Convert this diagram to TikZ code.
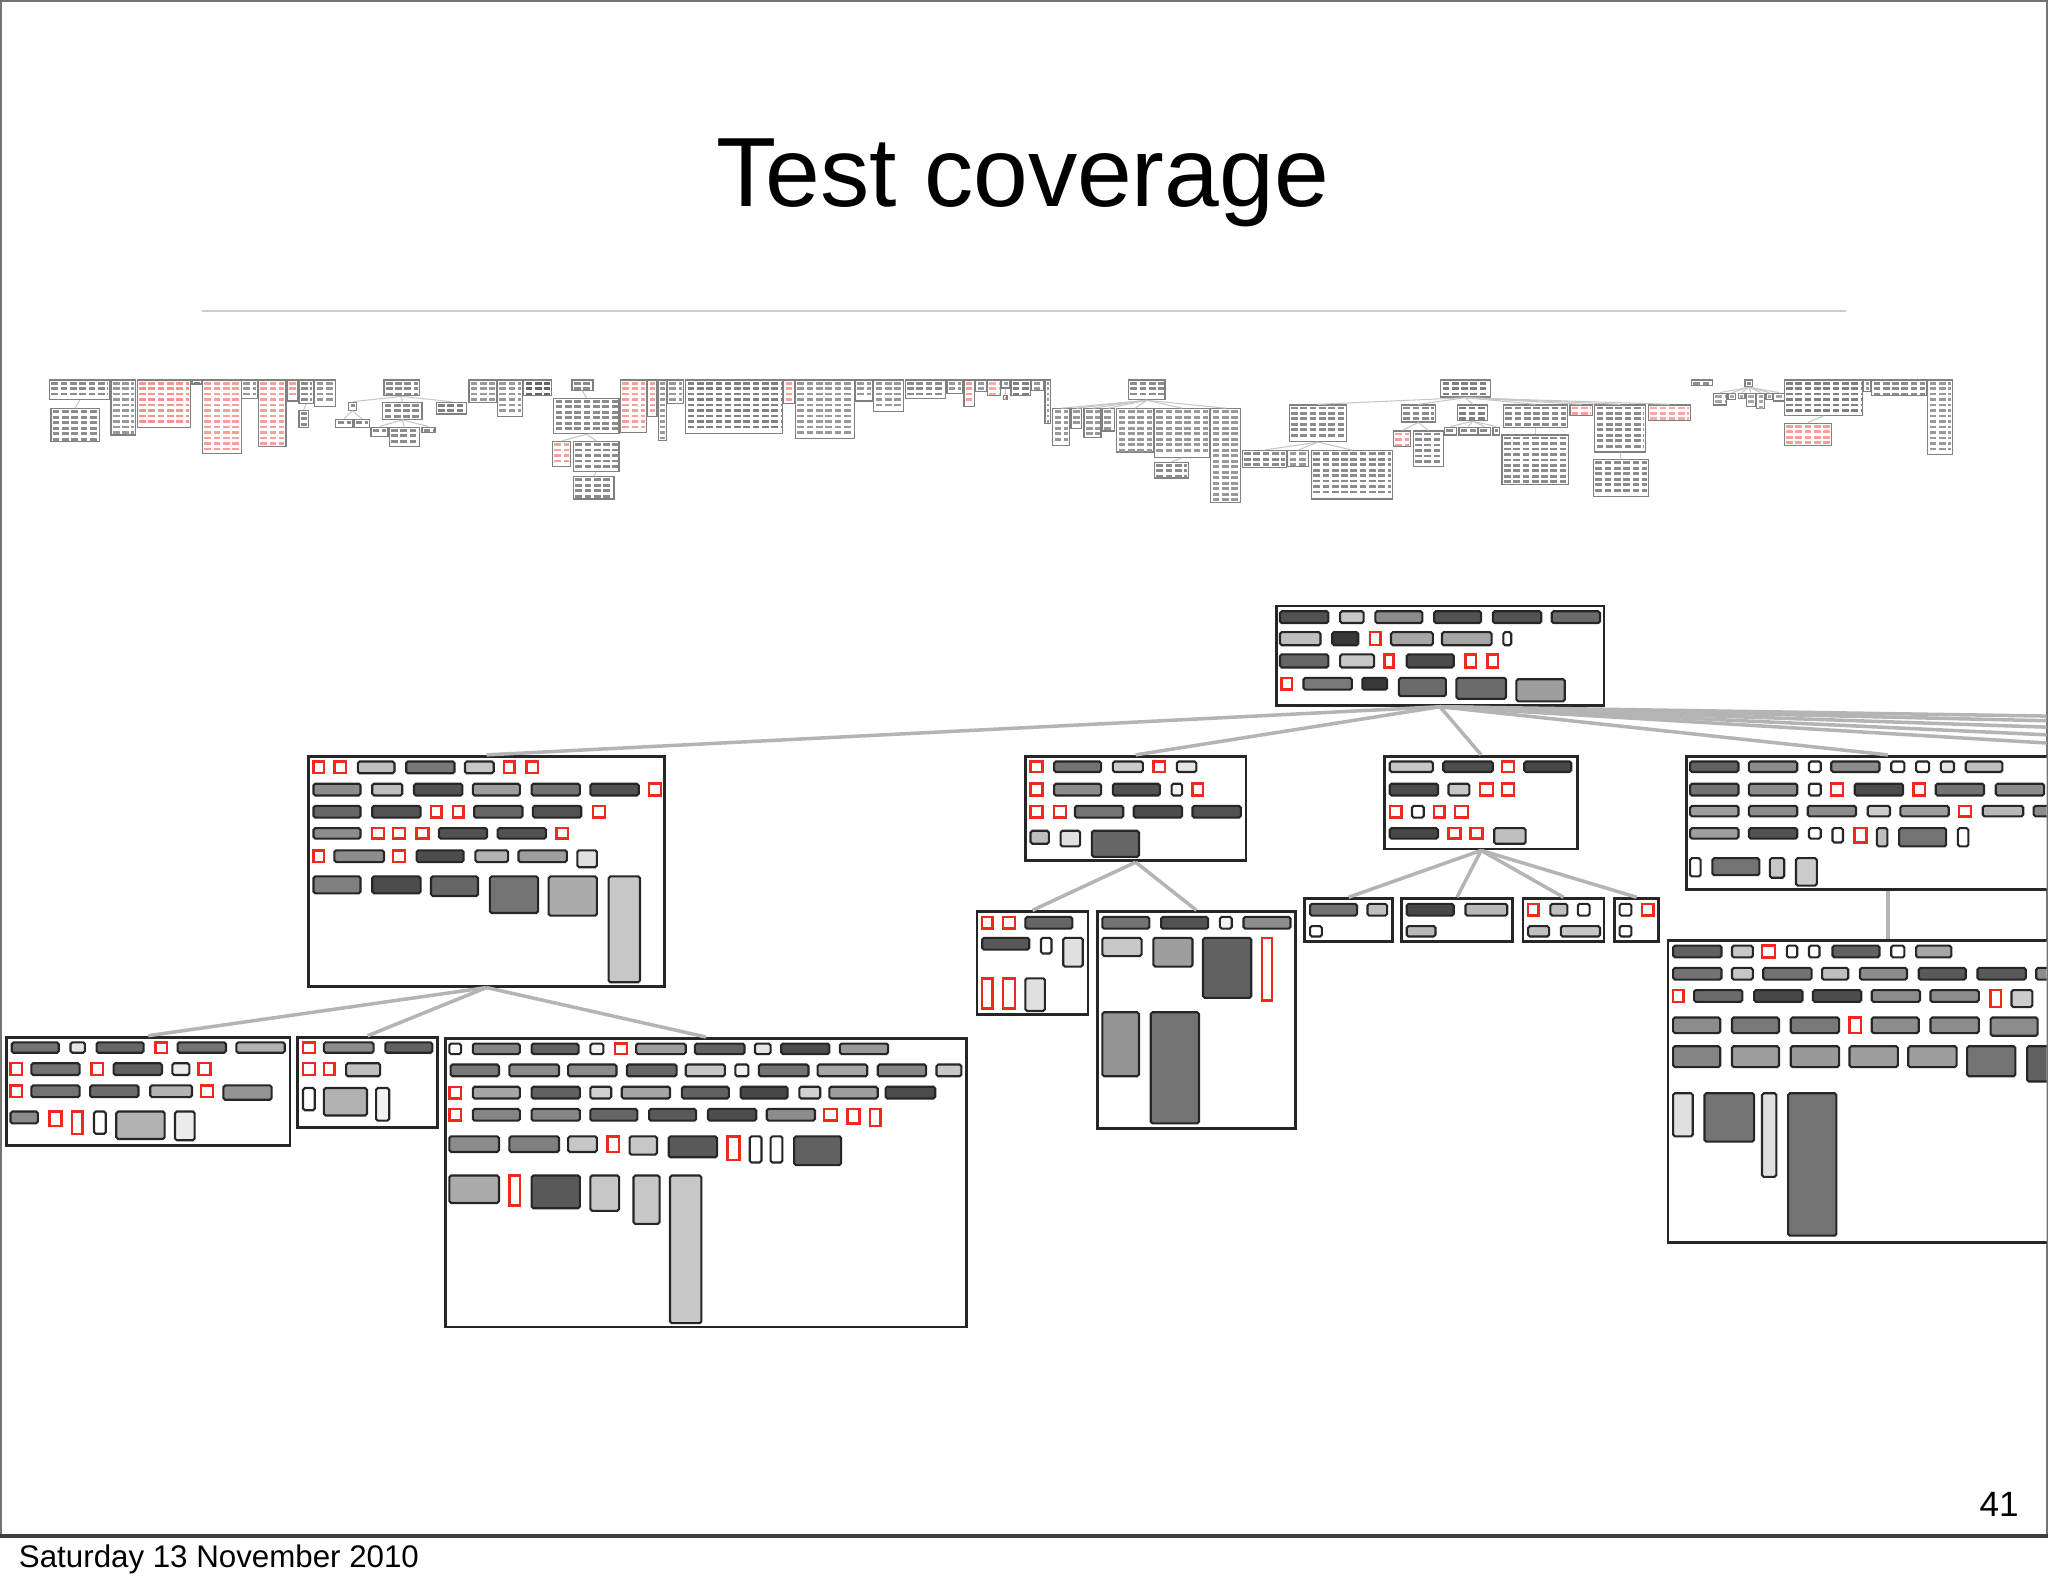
\documentclass[tikz,border=0pt]{standalone}
\usepackage{fontspec}
\setmainfont{Liberation Sans}
\usetikzlibrary{fit}
\definecolor{hotred}{HTML}{EE2A1E}
\definecolor{linkgrey}{HTML}{B4B4B4}

% small overview box with rows of dashes
\newcommand{\minibox}[6]{%
  \node[mbox,fit={(#2,#3) (#4,#5)}] (#1) {};
  \pgfmathtruncatemacro\nrows{max(1,(#5-#3-3.5)/4.2+1)}
  \foreach \k in {1,...,\nrows}
    \draw[mrow,#6] (#2+1.4,#3+2.3+\k*4.2-4.2) -- (#4-1.2,#3+2.3+\k*4.2-4.2);
}

\begin{document}
\begin{tikzpicture}[x=0.1306mm,y=-0.1306mm,
 tbox/.style={draw=black!85,line width=0.8pt,inner sep=0pt,fill=white},
 gbar/.style={draw=black!85,line width=0.6pt,rounded corners=0.5pt},
 redbar/.style={draw=hotred,line width=0.7pt,fill=white},
 tlink/.style={draw=linkgrey,line width=1pt},
 mbox/.style={draw=black!50,line width=0.35pt,inner sep=0pt},
 mrow/.style={line width=0.8pt,dash pattern=on 1.9pt off 0.75pt},
 mlink/.style={draw=black!22,line width=0.3pt}]
\useasboundingbox (0,0) rectangle (1568,1215);
\fill[white] (0,0) rectangle (1568,1215);

% slide
\draw[black!55,line width=0.6pt] (0.8,0.8) rectangle (1567.2,1176);
\draw[black!75,line width=1.2pt] (0,1176) -- (1568,1176);
\node[anchor=base,inner sep=0pt] (title) at (783,158) {\fontsize{28}{34}\selectfont Test coverage};
\draw[black!20,line width=0.6pt] (155,238) -- (1413,238);
\node[anchor=base west,inner sep=0pt] (date) at (14,1200) {\fontsize{8.9}{10}\selectfont Saturday 13 November 2010};
\node[anchor=base east,inner sep=0pt] (pnum) at (1546,1161) {\fontsize{10}{12}\selectfont 41};

% overview strip
\minibox{m1}{38}{291}{84}{306}{black!45}
\minibox{m2}{39}{313}{76}{338}{black!45}
\minibox{m3}{85}{291}{104}{333}{black!40}
\minibox{m4}{105}{291}{146}{327}{hotred!50}
\minibox{m5}{147}{291}{154}{294}{black!50}
\minibox{m6}{155}{291}{185}{347}{hotred!45}
\minibox{m7}{185}{291}{197}{305}{black!40}
\minibox{m8}{198}{291}{219}{342}{hotred!45}
\minibox{m9}{220}{291}{228}{307}{hotred!45}
\minibox{m10}{229}{291}{240}{309}{black!45}
\minibox{m11}{229}{314}{236}{327}{black!45}
\minibox{m12}{241}{291}{257}{311}{black!40}
\minibox{m13}{294}{291}{321}{303}{black!45}
\minibox{m14}{267}{308}{273}{314}{black!45}
\minibox{m15}{293}{308}{323}{321}{black!45}
\minibox{m16}{334}{308}{357}{317}{black!50}
\minibox{m17}{257}{321}{270}{327}{black!45}
\minibox{m18}{271}{321}{283}{327}{black!45}
\minibox{m19}{284}{327}{297}{334}{black!45}
\minibox{m20}{298}{327}{321}{342}{black!45}
\minibox{m21}{323}{327}{333}{331}{black!45}
\minibox{m22}{359}{291}{380}{308}{black!40}
\minibox{m23}{381}{291}{400}{319}{black!40}
\minibox{m24}{401}{291}{422}{303}{black!60}
\minibox{m25}{438}{291}{454}{299}{black!45}
\minibox{m26}{424}{305}{474}{332}{black!45}
\minibox{m27}{423}{338}{437}{357}{hotred!45}
\minibox{m28}{439}{338}{474}{361}{black!45}
\minibox{m29}{439}{365}{470}{382}{black!45}
\minibox{m30}{475}{291}{495}{331}{hotred!45}
\minibox{m31}{496}{291}{503}{319}{hotred!45}
\minibox{m32}{504}{291}{510}{337}{black!40}
\minibox{m33}{511}{291}{523}{309}{black!40}
\minibox{m34}{525}{291}{599}{332}{black!50}
\minibox{m35}{600}{291}{608}{309}{hotred!45}
\minibox{m36}{609}{291}{654}{336}{black!40}
\minibox{m37}{655}{291}{668}{307}{black!40}
\minibox{m38}{669}{291}{692}{315}{black!40}
\minibox{m39}{693}{291}{724}{305}{black!45}
\minibox{m40}{725}{291}{737}{301}{black!40}
\minibox{m41}{738}{291}{746}{311}{hotred!45}
\minibox{m42}{747}{291}{755}{300}{black!40}
\minibox{m43}{756}{291}{766}{303}{hotred!40}
\minibox{m44}{767}{291}{773}{297}{black!40}
\minibox{m45}{768}{303}{771}{306}{hotred!50}
\minibox{m46}{774}{291}{789}{303}{black!50}
\minibox{m47}{790}{291}{799}{299}{black!40}
\minibox{m48}{800}{291}{804}{324}{black!40}
\minibox{m49}{864}{291}{892}{306}{black!45}
\minibox{m50}{806}{313}{819}{341}{black!40}
\minibox{m51}{820}{313}{828}{328}{black!40}
\minibox{m52}{830}{313}{843}{335}{black!40}
\minibox{m53}{844}{313}{853}{330}{black!40}
\minibox{m54}{855}{313}{883}{346}{black!40}
\minibox{m55}{884}{313}{926}{350}{black!40}
\minibox{m56}{927}{313}{950}{385}{black!40}
\minibox{m57}{884}{354}{910}{366}{black!45}
\minibox{m58}{1103}{291}{1141}{304}{black!50}
\minibox{m59}{987}{310}{1031}{338}{black!45}
\minibox{m60}{1073}{310}{1099}{323}{black!45}
\minibox{m61}{1116}{310}{1139}{322}{black!50}
\minibox{m62}{1151}{310}{1200}{327}{black!45}
\minibox{m63}{1202}{310}{1219}{318}{hotred!45}
\minibox{m64}{1221}{310}{1260}{346}{black!45}
\minibox{m65}{1262}{310}{1294}{322}{hotred!40}
\minibox{m66}{951}{345}{985}{358}{black!45}
\minibox{m67}{986}{345}{1002}{357}{black!40}
\minibox{m68}{1004}{345}{1066}{382}{black!45}
\minibox{m69}{1067}{330}{1080}{342}{hotred!45}
\minibox{m70}{1082}{330}{1105}{357}{black!45}
\minibox{m71}{1106}{327}{1115}{333}{black!45}
\minibox{m72}{1117}{327}{1131}{333}{black!45}
\minibox{m73}{1132}{327}{1141}{333}{black!45}
\minibox{m74}{1143}{327}{1148}{333}{black!45}
\minibox{m75}{1150}{333}{1201}{371}{black!45}
\minibox{m76}{1220}{352}{1262}{380}{black!45}
\minibox{m77}{1295}{291}{1311}{295}{black!45}
\minibox{m78}{1336}{291}{1342}{296}{black!45}
\minibox{m79}{1312}{301}{1322}{310}{black!35}
\minibox{m80}{1323}{301}{1329}{306}{black!35}
\minibox{m81}{1331}{301}{1336}{305}{black!35}
\minibox{m82}{1337}{301}{1344}{311}{black!35}
\minibox{m83}{1345}{301}{1351}{313}{black!35}
\minibox{m84}{1352}{301}{1357}{306}{black!35}
\minibox{m85}{1358}{301}{1366}{307}{black!35}
\minibox{m86}{1366}{291}{1426}{318}{black!50}
\minibox{m87}{1366}{324}{1402}{341}{hotred!45}
\minibox{m88}{1427}{291}{1432}{300}{black!40}
\minibox{m89}{1433}{291}{1475}{303}{black!45}
\minibox{m90}{1476}{291}{1495}{348}{black!40}
\foreach \p/\c in {m1/m2,m10/m11,m13/m14,m13/m15,m13/m16,m14/m17,m14/m18,
  m15/m19,m15/m20,m15/m21,m25/m26,m26/m27,m26/m28,m28/m29,m44/m45,
  m49/m50,m49/m51,m49/m52,m49/m53,m49/m54,m49/m55,m49/m56,m55/m57,
  m58/m59,m58/m60,m58/m61,m58/m62,m58/m63,m58/m64,m58/m65,
  m59/m66,m59/m67,m59/m68,m60/m69,m60/m70,m61/m71,m61/m72,m61/m73,m61/m74,
  m62/m75,m64/m76,m78/m79,m78/m80,m78/m81,m78/m82,m78/m83,m78/m84,m78/m85,m86/m87}
  \draw[mlink] (\p.south) -- (\c.north);

% zoomed tree
\begin{scope}
\clip (0,0) rectangle (1567,1176);
\node[tbox,fit={(977,464) (1228,540)}] (root) {};
\node[tbox,fit={(236,579) (509,755)}] (ka) {};
\node[tbox,fit={(785,579) (954,659)}] (kb) {};
\node[tbox,fit={(1060,579) (1208,650)}] (kc) {};
\node[tbox,fit={(1291,579) (1600,681)}] (kd) {};
\node[tbox,fit={(5,794) (222,877)}] (ka1) {};
\node[tbox,fit={(228,794) (335,863)}] (ka2) {};
\node[tbox,fit={(341,795) (740,1016)}] (ka3) {};
\node[tbox,fit={(748,698) (833,777)}] (kb1) {};
\node[tbox,fit={(840,698) (992,864)}] (kb2) {};
\node[tbox,fit={(999,688) (1066,721)}] (kc1) {};
\node[tbox,fit={(1073,688) (1158,721)}] (kc2) {};
\node[tbox,fit={(1166,688) (1228,721)}] (kc3) {};
\node[tbox,fit={(1236,688) (1270,721)}] (kc4) {};
\node[tbox,fit={(1277,720) (1614,951)}] (kd1) {};
\coordinate (g1) at (1720,578);
\coordinate (g2) at (1900,578);
\coordinate (g3) at (2200,578);
\coordinate (g4) at (2700,578);
\coordinate (g5) at (3500,578);

\foreach \c in {ka,kb,kc,kd} \draw[tlink] (root.south) -- (\c.north);
\foreach \c in {g1,g2,g3,g4,g5} \draw[tlink] (root.south) -- (\c);
\foreach \c in {ka1,ka2,ka3} \draw[tlink] (ka.south) -- (\c.north);
\foreach \c in {kb1,kb2} \draw[tlink] (kb.south) -- (\c.north);
\foreach \c in {kc1,kc2,kc3,kc4} \draw[tlink] (kc.south) -- (\c.north);
\draw[tlink] (kd.south) -- (kd1.north);

% root
\foreach \a/\b/\c/\d/\s in {980/468/1017/477/68,1026/468/1044/477/22,1053/468/1089/477/45,
  1098/468/1134/477/68,1143/468/1180/477/68,1188/468/1225/477/58,980/484/1011/494/25,
  1020/484/1040/494/78,1065/484/1097/494/35,1104/484/1142/494/35,1151/484/1157/494/0,
  980/501/1017/511/60,1026/501/1052/511/22,1077/501/1113/511/70,998/519/1035/528/52,
  1043/519/1062/528/78,1071/519/1107/533/58,1115/519/1153/535/58,1161/520/1198/537/38}
  \draw[gbar,fill=black!\s] (\a,\b) rectangle (\c,\d);
\foreach \a/\b/\c/\d in {1049/484/1057/494,1060/501/1067/511,1122/501/1130/511,
  1139/501/1147/511,981/519/989/528}
  \draw[redbar] (\a,\b) rectangle (\c,\d);

% ka
\foreach \a/\b/\c/\d/\s in {274/583/302/592/25,311/583/348/592/53,356/583/378/592/22,
  240/600/276/609/45,285/600/308/609/25,317/600/354/609/68,362/600/398/609/38,
  407/600/444/609/55,452/600/489/609/68,240/617/276/626/60,285/617/322/626/68,
  363/617/400/626/60,408/617/445/626/68,240/634/276/642/45,336/634/373/642/68,
  381/634/418/642/68,256/651/294/660/45,319/651/355/660/70,364/651/389/660/30,
  397/651/434/660/38,442/651/457/664/12,240/671/276/684/50,285/671/322/684/70,
  330/671/366/686/60,375/671/412/699/55,420/671/457/701/33,466/671/490/752/22}
  \draw[gbar,fill=black!\s] (\a,\b) rectangle (\c,\d);
\foreach \a/\b/\c/\d in {240/583/248/592,256/583/265/592,386/583/394/592,403/583/412/592,
  497/600/506/609,330/617/338/626,347/617/355/626,454/617/463/626,285/634/294/642,
  301/634/310/642,319/634/328/642,426/634/435/642,240/651/248/660,301/651/310/660}
  \draw[redbar] (\a,\b) rectangle (\c,\d);

% ka1, ka2
\foreach \a/\b/\c/\d/\s in {9/798/45/806/55,54/798/65/806/10,74/798/110/806/60,
  136/798/173/806/55,181/798/218/806/30,24/814/61/823/55,87/814/124/823/62,
  132/814/145/823/8,24/831/61/840/55,69/831/106/840/58,115/831/147/840/30,
  171/831/208/842/42,8/851/29/860/45,72/851/81/868/0,89/851/126/872/30,134/851/149/873/8,
  248/798/286/806/45,295/798/331/806/62,265/814/291/824/25,232/833/241/850/0,
  248/833/281/854/30,288/833/298/858/5}
  \draw[gbar,fill=black!\s] (\a,\b) rectangle (\c,\d);
\foreach \a/\b/\c/\d in {119/798/128/806,8/814/17/823,70/814/79/823,152/814/161/823,
  8/831/17/840,154/831/163/840,38/851/47/862,55/851/63/868,
  232/798/241/806,232/814/241/823,248/814/256/823}
  \draw[redbar] (\a,\b) rectangle (\c,\d);

% ka3
\foreach \a/\b/\c/\d/\s in {344/799/353/807/0,362/799/398/807/48,407/799/443/807/62,
  452/799/462/807/5,487/799/525/807/38,532/799/570/807/62,578/799/590/807/10,
  598/799/635/807/70,643/799/680/807/40,
  345/815/382/824/53,390/815/428/824/45,435/815/472/824/45,480/815/518/824/60,
  525/815/555/824/22,563/815/573/824/5,581/815/619/824/55,626/815/664/824/35,
  672/815/709/824/48,717/815/736/824/22,
  362/832/398/841/35,407/832/444/841/62,452/832/468/841/18,476/832/513/841/35,
  522/832/558/841/62,567/832/603/841/72,612/832/628/841/18,635/832/672/841/38,
  678/832/716/841/70,
  362/849/398/858/48,407/849/444/858/48,452/849/488/858/60,497/849/533/858/65,
  542/849/579/858/70,587/849/624/858/45,
  344/870/382/882/45,390/870/428/882/50,435/870/457/882/22,482/870/503/884/22,
  512/870/549/886/65,574/870/583/890/0,590/870/599/890/0,608/870/644/892/62,
  344/900/382/921/33,407/900/444/925/65,452/900/474/927/22,485/900/505/937/22,
  513/900/537/1013/22}
  \draw[gbar,fill=black!\s] (\a,\b) rectangle (\c,\d);
\foreach \a/\b/\c/\d in {471/799/480/807,344/832/353/841,344/849/353/858,631/849/641/858,
  649/849/658/860,666/849/674/862,465/870/474/882,557/870/566/888,390/900/398/923}
  \draw[redbar] (\a,\b) rectangle (\c,\d);

% kb, kb1, kb2
\foreach \a/\b/\c/\d/\s in {807/583/843/591/55,852/583/875/591/20,901/583/916/591/10,
  807/600/843/609/45,852/600/888/609/68,897/600/905/609/5,823/617/860/626/55,
  868/617/905/626/70,913/617/950/626/68,789/636/803/646/25,812/636/827/648/12,
  836/636/872/656/60,
  785/702/821/711/60,752/718/788/727/65,797/718/805/730/0,814/718/829/740/12,
  785/749/800/774/12,
  844/702/880/711/55,889/702/925/711/68,934/702/943/711/5,952/702/988/711/45,
  844/718/874/732/22,883/718/913/740/38,921/718/958/764/62,844/775/872/824/42,
  881/775/918/860/55}
  \draw[gbar,fill=black!\s] (\a,\b) rectangle (\c,\d);
\foreach \a/\b/\c/\d in {789/583/798/591,883/583/892/591,789/600/798/609,913/600/921/609,
  789/617/798/626,807/617/816/626,752/702/760/711,768/702/777/711,752/749/760/772,
  768/749/777/772,966/718/974/766}
  \draw[redbar] (\a,\b) rectangle (\c,\d);

% kc and its leaves
\foreach \a/\b/\c/\d/\s in {1064/583/1097/591/22,1105/583/1143/591/70,1167/583/1203/591/72,
  1064/600/1101/609/70,1109/600/1125/609/22,1081/617/1090/626/0,1064/634/1101/642/72,
  1144/634/1168/646/25,
  1003/692/1039/701/55,1047/692/1062/701/25,1003/709/1012/717/0,
  1077/692/1113/701/72,1122/692/1154/701/28,1077/709/1099/717/28,
  1187/692/1200/701/25,1208/692/1217/701/0,1170/709/1186/717/25,1195/709/1225/717/22,
  1240/692/1249/701/0,1240/709/1249/717/0}
  \draw[gbar,fill=black!\s] (\a,\b) rectangle (\c,\d);
\foreach \a/\b/\c/\d in {1150/583/1159/591,1133/600/1143/609,1150/600/1159/609,
  1064/617/1073/626,1098/617/1106/626,1114/617/1124/626,1109/634/1118/642,
  1126/634/1135/642,1170/692/1178/701,1257/692/1266/701}
  \draw[redbar] (\a,\b) rectangle (\c,\d);

% kd, kd1
\foreach \a/\b/\c/\d/\s in {1294/583/1331/591/62,1339/583/1376/591/45,1385/583/1394/591/0,
  1402/583/1439/591/45,1448/583/1458/591/0,1467/583/1477/591/0,1486/583/1496/591/10,
  1505/583/1533/591/25,
  1294/600/1331/609/55,1339/600/1376/609/45,1385/600/1394/609/0,1420/600/1457/609/70,
  1482/600/1519/609/55,1528/600/1565/609/45,
  1294/617/1331/625/38,1339/617/1376/625/45,1384/617/1421/625/45,1430/617/1447/625/20,
  1455/617/1492/625/38,1518/617/1549/625/28,1557/617/1590/625/45,
  1294/634/1331/642/38,1339/634/1376/642/68,1385/634/1394/642/0,1403/634/1411/645/0,
  1437/634/1445/648/25,1454/634/1490/648/55,1499/634/1507/648/0,
  1294/657/1302/671/0,1311/657/1347/670/55,1355/657/1366/672/22,1375/657/1391/678/20,
  1281/724/1318/733/62,1326/724/1342/733/22,1368/724/1376/733/0,1385/724/1393/733/0,
  1403/724/1439/733/62,1448/724/1458/733/0,1467/724/1494/733/35,
  1281/741/1318/750/55,1326/741/1342/750/22,1350/741/1387/750/55,1395/741/1415/750/25,
  1424/741/1460/750/45,1469/741/1505/750/65,1514/741/1551/750/65,1559/741/1596/750/45,
  1297/758/1334/767/58,1343/758/1380/767/72,1388/758/1425/767/70,1433/758/1470/767/45,
  1478/758/1515/767/45,1540/758/1556/771/20,
  1281/779/1317/791/45,1326/779/1362/791/53,1371/779/1408/791/53,1433/779/1469/791/45,
  1478/779/1515/791/45,1524/779/1560/793/45,
  1281/801/1317/817/48,1326/801/1362/817/38,1371/801/1408/817/40,1416/801/1453/817/38,
  1461/801/1498/817/38,1506/801/1543/824/55,1552/801/1589/828/62,
  1281/837/1296/870/12,1305/837/1343/874/55,1349/837/1360/901/12,1369/837/1406/946/55}
  \draw[gbar,fill=black!\s] (\a,\b) rectangle (\c,\d);
\foreach \a/\b/\c/\d in {1402/600/1411/609,1465/600/1474/609,1500/617/1509/625,
  1420/634/1429/645,1349/724/1359/733,1281/758/1289/767,1524/758/1532/771,1416/779/1425/791}
  \draw[redbar] (\a,\b) rectangle (\c,\d);
\end{scope}
\end{tikzpicture}
\end{document}
